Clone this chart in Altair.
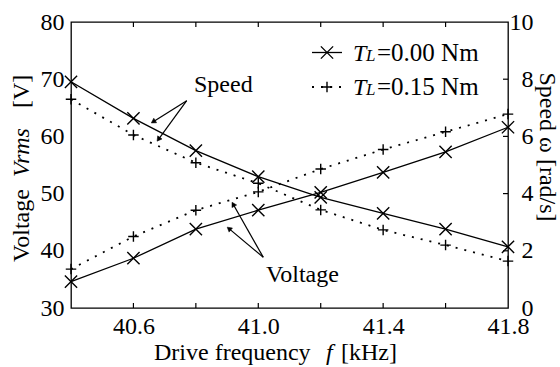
import math
import altair as alt
import pandas as pd

# ---- data ----
freq = [40.4, 40.6, 40.8, 41.0, 41.2, 41.4, 41.6, 41.8]
volt_tl000 = [34.6, 38.7, 43.8, 47.1, 50.2, 53.7, 57.3, 61.6]
volt_tl015 = [36.8, 42.5, 47.1, 50.3, 54.3, 57.7, 60.8, 63.9]
speed_tl000 = [7.91, 6.63, 5.50, 4.59, 3.87, 3.31, 2.76, 2.14]
speed_tl015 = [7.30, 6.05, 5.08, 4.36, 3.43, 2.73, 2.20, 1.64]

x_tick_labels = [40.6, 41.0, 41.4, 41.8]
x_minor_ticks = [40.6, 40.8, 41.0, 41.2, 41.4, 41.6]
volt_ticks = [30, 40, 50, 60, 70, 80]
speed_ticks = [0, 2, 4, 6, 8, 10]
speed_inner_ticks = [2, 4, 6, 8]

# ---- layout ----
W, H = 437, 286
PL, PT, PR, PB = 71, 22, 52, 59
FONT = "Liberation Serif, Times New Roman, DejaVu Serif, serif"
FS = 24
X_PATH = "M-1,-1L1,1M-1,1L1,-1"
PLUS_PATH = "M-1,0L1,0M0,-1L0,1"
DASH = [2, 7]

xenc = alt.X(
    "f:Q",
    scale=alt.Scale(domain=[40.4, 41.8], nice=False, zero=False),
    axis=alt.Axis(values=x_tick_labels, format=".1f", ticks=False, tickSize=0,
                  domain=False, grid=False, title=None, labelFont=FONT,
                  labelFontSize=FS, labelColor="black", labelPadding=6,
                  labelFlush=False, labelOverlap=False),
)
vscale = alt.Scale(domain=[30, 80], nice=False, zero=False)
sscale = alt.Scale(domain=[0, 10], nice=False, zero=False)
vaxis = alt.Axis(orient="left", values=volt_ticks, ticks=False, tickSize=0, domain=False,
                 grid=False, title=None, labelFont=FONT, labelFontSize=FS,
                 labelColor="black", labelPadding=7, labelFlush=False, labelOverlap=False)
saxis = alt.Axis(orient="right", values=speed_ticks, ticks=False, tickSize=0, domain=False,
                 grid=False, title=None, labelFont=FONT, labelFontSize=FS,
                 labelColor="black", labelPadding=25, labelAlign="right",
                 labelFlush=False, labelOverlap=False)


def series_layers(values, scale, axis, dashed, path, size):
    df = pd.DataFrame({"f": freq, "v": values})
    yenc = alt.Y("v:Q", scale=scale, axis=axis)
    line_kw = dict(color="black", strokeWidth=1.3)
    if dashed:
        line_kw.update(strokeDash=DASH, strokeWidth=1.8)
    line = alt.Chart(df).mark_line(**line_kw).encode(x=xenc, y=yenc)
    pts = alt.Chart(df).mark_point(shape=path, size=size, filled=False, stroke="black",
                                   strokeWidth=1.4, opacity=1).encode(x=xenc, y=yenc)
    return [line, pts]


# voltage group (left axis)
vlayers = []
vlayers += series_layers(volt_tl000, vscale, vaxis, False, X_PATH, 150)
vlayers += series_layers(volt_tl015, vscale, vaxis, True, PLUS_PATH, 110)
tick_df = pd.DataFrame({"f": x_minor_ticks})
vlayers.append(alt.Chart(tick_df).mark_rule(color="black", strokeWidth=1.2).encode(
    x=xenc, y=alt.value(0), y2=alt.value(5)))
vlayers.append(alt.Chart(tick_df).mark_rule(color="black", strokeWidth=1.2).encode(
    x=xenc, y=alt.value(H - 5), y2=alt.value(H)))
voltage = alt.layer(*vlayers)

# speed group (right axis)
slayers = []
slayers += series_layers(speed_tl000, sscale, saxis, False, X_PATH, 150)
slayers += series_layers(speed_tl015, sscale, saxis, True, PLUS_PATH, 110)
st_df = pd.DataFrame({"v": speed_inner_ticks})
slayers.append(alt.Chart(st_df).mark_rule(color="black", strokeWidth=1.2).encode(
    y=alt.Y("v:Q", scale=sscale, axis=saxis), x=alt.value(W - 5), x2=alt.value(W)))
speed = alt.layer(*slayers)

# ---- annotations (pixel positions relative to plot origin) ----
one = pd.DataFrame({"a": [0]})
ann = []


def text(t, x, y, italic=False, size=FS, align="left", angle=0, baseline="middle"):
    kw = dict(text=t, font=FONT, fontSize=size, color="black", align=align,
              baseline=baseline, angle=angle)
    if italic:
        kw["fontStyle"] = "italic"
    return alt.Chart(one).mark_text(**kw).encode(x=alt.value(x), y=alt.value(y))


def arrow(x1, y1, x2, y2):
    dx, dy = x2 - x1, y2 - y1
    L = math.hypot(dx, dy)
    ux, uy = dx / L, dy / L
    ang = (math.degrees(math.atan2(dy, dx)) + 90) % 360
    line = alt.Chart(one).mark_rule(color="black", strokeWidth=1.2).encode(
        x=alt.value(x1), y=alt.value(y1), x2=alt.value(x2 - ux * 3), y2=alt.value(y2 - uy * 3))
    head = alt.Chart(one).mark_point(shape="triangle-up", filled=True, fill="black",
                                     stroke="black", strokeWidth=0.5, size=28, angle=ang,
                                     opacity=1).encode(
        x=alt.value(x2 - ux * 3), y=alt.value(y2 - uy * 3))
    return [line, head]


# curve labels
ann.append(text("Speed", 123, 63))
ann += arrow(115.7, 78.7, 79.7, 101.3)
ann += arrow(115.7, 78.7, 85.7, 119.7)
ann.append(text("Voltage", 195, 253))
ann += arrow(192.3, 235.3, 160.7, 179.7)
ann += arrow(192.3, 235.3, 155.7, 204.7)

# legend
for row_y, dashed, path, size, label in [(30.5, False, X_PATH, 150, "=0.00 Nm"),
                                         (65, True, PLUS_PATH, 110, "=0.15 Nm")]:
    kw = dict(color="black", strokeWidth=1.3)
    if dashed:
        kw.update(strokeDash=DASH, strokeWidth=1.8)
    ann.append(alt.Chart(one).mark_rule(**kw).encode(
        x=alt.value(241), x2=alt.value(271), y=alt.value(row_y), y2=alt.value(row_y)))
    ann.append(alt.Chart(one).mark_point(shape=path, size=size, filled=False, stroke="black",
                                         strokeWidth=1.4, opacity=1).encode(
        x=alt.value(256), y=alt.value(row_y)))
    ann.append(text("T", 282, row_y + 8, italic=True, baseline="alphabetic"))
    ann.append(text("L", 295, row_y + 8, italic=True, size=17, baseline="alphabetic"))
    ann.append(text(label, 306, row_y + 8, size=25, baseline="alphabetic"))

# axis titles
ann.append(text("Voltage", -49, 240, angle=270))
ann.append(text("Vrms", -49, 155, italic=True, angle=270))
ann.append(text("[V]", -49, 86, angle=270))
ann.append(text("Speed  \u03c9 [rad/s]", 476, 125, align="center", angle=90))
ann.append(text("Drive frequency", 83, 331))
ann.append(text("f", 255, 331, italic=True))
ann.append(text("[kHz]", 270, 331))

chart = alt.layer(voltage, speed, *ann).resolve_scale(y="independent").properties(
    width=W, height=H,
    padding={"left": PL, "top": PT, "right": PR, "bottom": PB},
    autosize=alt.AutoSizeParams(type="none"),
    background="white",
).configure_view(stroke="black", strokeWidth=1.3)

chart.save("out.html", embed_options={"renderer": "svg", "actions": False})
